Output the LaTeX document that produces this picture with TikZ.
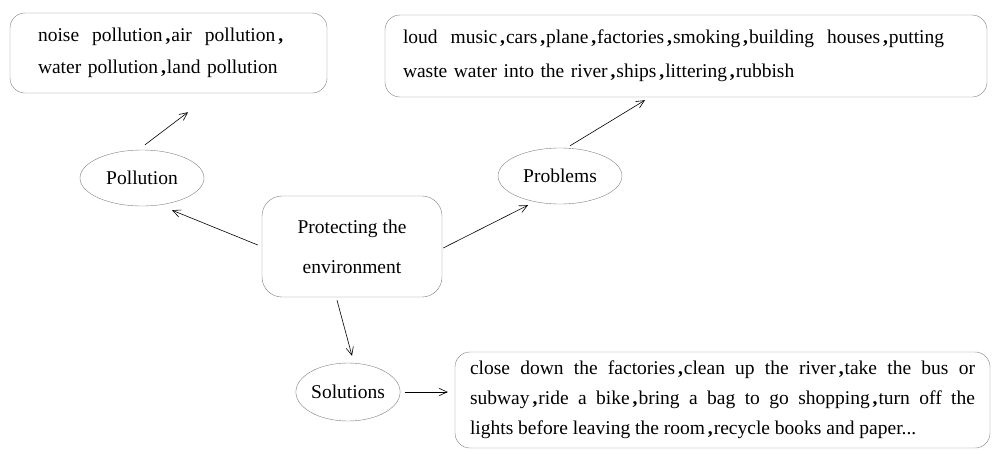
\documentclass[tikz,border=0pt]{standalone}
\usepackage{fontspec}
\setmainfont{Liberation Serif}
\usetikzlibrary{arrows.meta,shapes.geometric}
\newcommand{\cma}{\hspace{0.15em}\textbf{,}\hspace{0.05em}}

\begin{document}
\begin{tikzpicture}[
  x=1pt, y=-1pt,
  every node/.style={font=\fontsize{19.5}{33}\selectfont},
  block/.style={draw=gray, rounded corners=15pt, align=left, inner xsep=0pt, minimum height=80pt},
  oval/.style={draw=gray, ellipse, minimum width=124pt, minimum height=56pt, inner sep=0pt},
  arrow/.style={-{Straight Barb[length=2.8mm,width=2.6mm]}, semithick}
]
\useasboundingbox (0,0) rectangle (996,453);
% centre
\node[draw=gray, rounded corners=20pt, align=center, minimum width=180pt, minimum height=101pt,
  font=\fontsize{19.5}{40}\selectfont] (topic) at (352,246.5) {Protecting the\\environment};
% branches
\node[oval] (poll) at (142,178) {Pollution};
\node[oval] (prob) at (560,176) {Problems};
\node[oval, minimum width=104pt, minimum height=58pt] (sol) at (348,392) {Solutions};
% detail boxes
\node[block, text width=261pt, minimum height=80pt, inner xsep=28pt,
  font=\fontsize{19.5}{32}\selectfont] (pollbox) at (168.5,53)
  {noise\ \ pollution\cma air\ \ pollution\cma\\water pollution\cma land pollution};
\node[block, text width=566pt, minimum height=82pt, inner xsep=18pt,
  font=\fontsize{19.5}{34}\selectfont] (probbox) at (686,56)
  {loud\ \ music\cma cars\cma plane\cma factories\cma smoking\cma building\ \ houses\cma putting\\waste water into the river\cma ships\cma littering\cma rubbish};
\node[block, align=justify, text width=505pt, minimum height=96pt, inner xsep=15pt,
  font=\fontsize{19.5}{30}\selectfont] (solbox) at (722.5,400)
  {close down the factories\cma clean up the river\cma take the bus or\linebreak
   subway\cma ride a bike\cma bring a bag to go shopping\cma turn off the\linebreak
   lights before leaving the room\cma recycle books and paper...};
% connectors
\draw[arrow] ([xshift=3pt,yshift=5pt]poll.north) -- ([xshift=19.5pt,yshift=-19pt]pollbox.south);
\draw[arrow] ([xshift=-4pt,yshift=1.5pt]topic.west) -- ([xshift=30pt,yshift=-4pt]poll.south);
\draw[arrow] ([xshift=1pt,yshift=-1.5pt]topic.east) -- ([xshift=-32pt,yshift=-1pt]prob.south);
\draw[arrow] ([xshift=10pt,yshift=2pt]prob.north) -- ([xshift=-41pt,yshift=-3pt]probbox.south);
\draw[arrow] ([xshift=-15pt,yshift=-3pt]topic.south) -- ([xshift=4pt,yshift=7pt]sol.north);
\draw[arrow] ([xshift=5pt]sol.east) -- ([xshift=-7pt,yshift=8pt]solbox.west);
\end{tikzpicture}
\end{document}
